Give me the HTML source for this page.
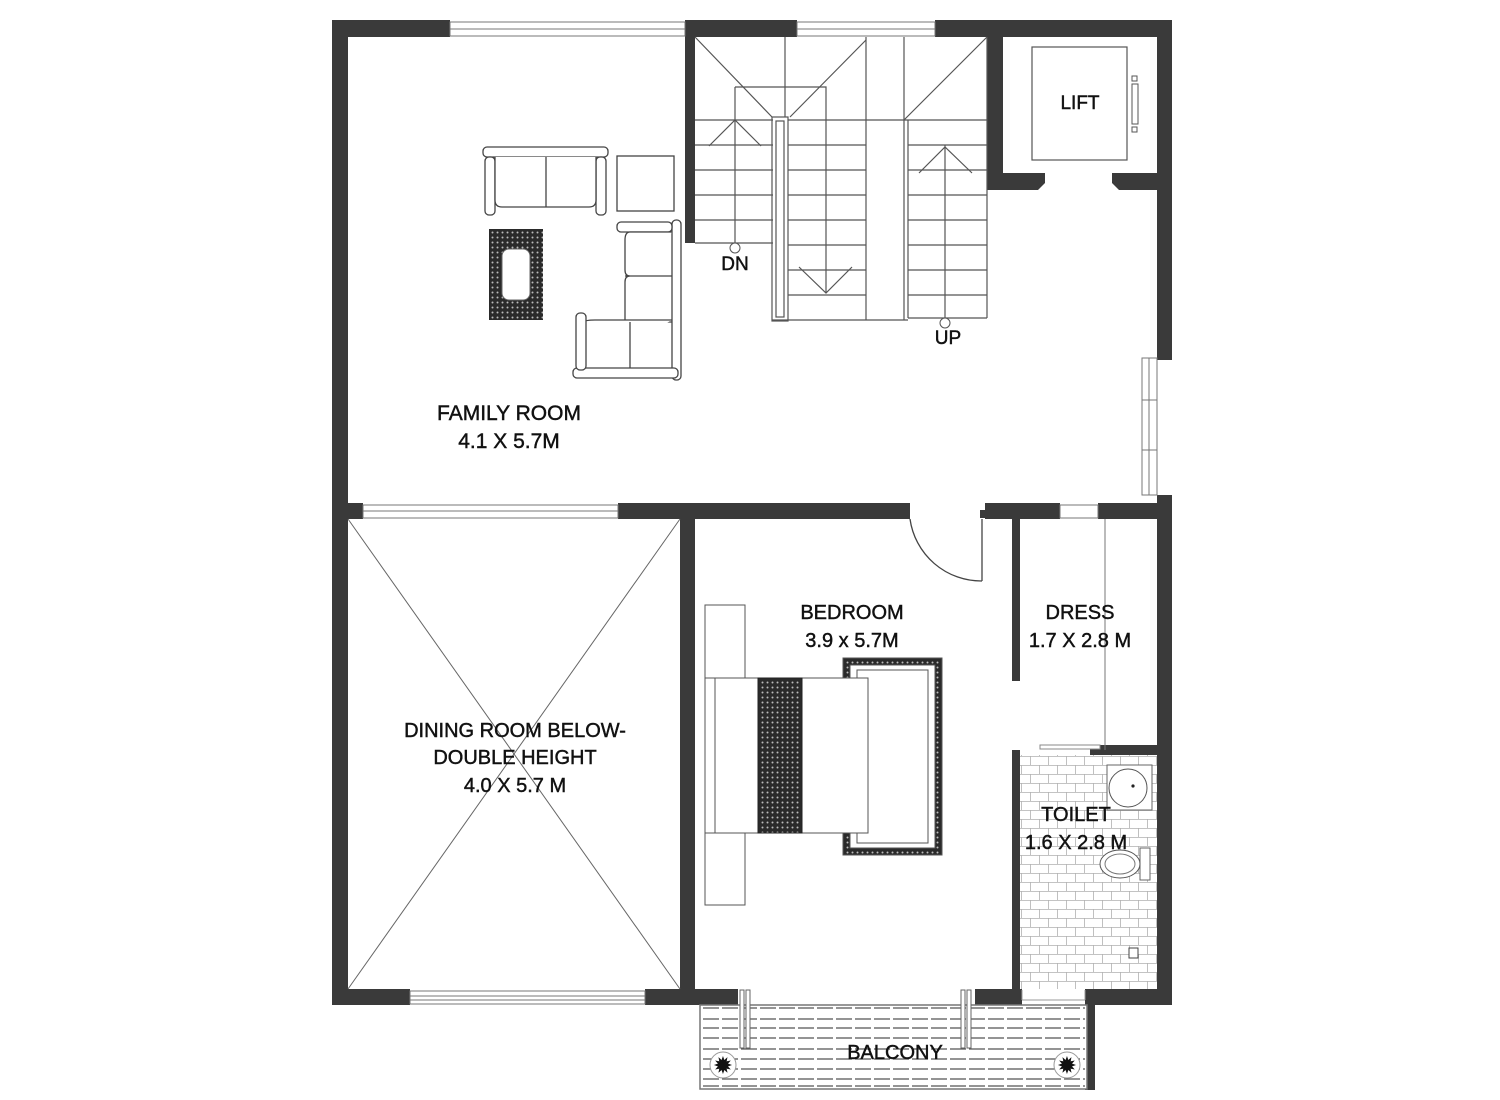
<!DOCTYPE html>
<html><head><meta charset="utf-8"><style>
html,body{margin:0;padding:0;background:#fff;}
svg{display:block;}
text{font-family:"Liberation Sans","DejaVu Sans",sans-serif;fill:#111;stroke:#111;stroke-width:0.45;}
</style></head><body>
<svg width="1500" height="1100" viewBox="0 0 1500 1100" xmlns="http://www.w3.org/2000/svg">
<defs>
<pattern id="dots" width="5" height="5" patternUnits="userSpaceOnUse">
<rect width="5" height="5" fill="#2a2a2a"/><circle cx="2.5" cy="2.5" r="1" fill="#bbb"/>
</pattern>
<pattern id="tiles" width="18" height="18" patternUnits="userSpaceOnUse">
<rect width="18" height="18" fill="#fff"/>
<path d="M0 0.5H18M0 9.5H18M4.5 0V9M13.5 9V18" stroke="#b0b0b0" stroke-width="0.8" fill="none"/>
</pattern>
</defs>
<g fill="#3a3a3a">
<rect x="332" y="20" width="118" height="17"/>
<rect x="685" y="20" width="112" height="17"/>
<rect x="935" y="20" width="237" height="17"/>
<rect x="332" y="20" width="16" height="985"/>
<rect x="1157" y="20" width="15" height="340"/>
<rect x="1157" y="495" width="15" height="510"/>
<rect x="685" y="37" width="10" height="206"/>
<rect x="987" y="37" width="16" height="153"/>
<path d="M987 173H1045L1045 183L1038 190H987Z"/>
<path d="M1157 173H1112L1112 183L1119 190H1157Z"/>
<rect x="332" y="503" width="31" height="16"/>
<rect x="618" y="503" width="292" height="16"/>
<rect x="985" y="503" width="75" height="16"/>
<rect x="1098" y="503" width="74" height="16"/>
<rect x="680" y="519" width="15" height="486"/>
<rect x="332" y="989" width="78" height="16"/>
<rect x="645" y="989" width="93" height="16"/>
<rect x="975" y="989" width="47" height="16"/>
<rect x="1085" y="989" width="87" height="16"/>
<rect x="1085" y="1000" width="10" height="90"/>
<rect x="1012" y="519" width="8" height="162"/>
<rect x="1012" y="750" width="8" height="245"/>
<rect x="1090" y="745" width="67" height="10"/>
<rect x="980" y="510" width="6" height="8"/>
</g>
<g fill="#fff" stroke="#777" stroke-width="1">
<rect x="450" y="22" width="235" height="14"/>
<rect x="797" y="22" width="138" height="14"/>
<rect x="363" y="505" width="255" height="13"/>
<rect x="410" y="991" width="235" height="13"/>
<rect x="1142" y="358" width="15" height="137"/>
<rect x="1060" y="505" width="38" height="13"/>
</g>
<g stroke="#777" stroke-width="1" fill="none">
<path d="M450 29H685M797 29H935M363 511H618M410 996H645M410 1000H645M1149 358V495M1142 400H1157M1142 450H1157"/>
</g>
<g stroke="#555" stroke-width="1.2" fill="none">
<path d="M695 120H773M695 145H773M695 170H773M695 195H773M695 220H773M695 243H773"/>
<rect x="772" y="117" width="16" height="204"/>
<rect x="776" y="121" width="8" height="196"/>
<path d="M788 145H866M788 170H866M788 195H866M788 220H866M788 245H866M788 270H866M788 295H866M772 320H908"/>
<path d="M866 37V320M904 37V320M908 120V318M987 37V318"/>
<path d="M908 145H987M908 170H987M908 195H987M908 220H987M908 245H987M908 270H987M908 295H987M908 318H987"/>
<path d="M785 37V117M866 120H987M788 120H866"/>
<path d="M695 37L772 117M866 40L790 117M987 37L904 120"/>
<path d="M735 87H826V293M735 87V243"/>
<path d="M709 146L735 120L761 146M799 267L826 293L852 267"/>
<path d="M945 145V318M919 173L945 147L972 173"/>
</g>
<circle cx="735" cy="248" r="5" fill="#fff" stroke="#555"/>
<circle cx="945" cy="323" r="5" fill="#fff" stroke="#555"/>
<text x="735" y="270" font-size="19" text-anchor="middle">DN</text>
<text x="948" y="344" font-size="19" text-anchor="middle">UP</text>
<rect x="1032" y="47" width="95" height="113" fill="#fff" stroke="#555" stroke-width="1.2"/>
<rect x="1132" y="84" width="6" height="40" fill="#fff" stroke="#555"/>
<rect x="1132" y="76" width="5" height="5" fill="#fff" stroke="#555"/>
<rect x="1132" y="127" width="5" height="5" fill="#fff" stroke="#555"/>
<text x="1080" y="109" font-size="19" text-anchor="middle">LIFT</text>
<g stroke="#444" stroke-width="1.3" fill="#fff">
<rect x="483" y="147" width="125" height="10" rx="4"/>
<rect x="485" y="157" width="10" height="58" rx="4"/>
<rect x="596" y="157" width="10" height="58" rx="4"/>
<path d="M495 157V200Q495 207 502 207H589Q596 207 596 200V157M546 157V207"/>
<rect x="617" y="156" width="57" height="55"/>
<rect x="672" y="220" width="9" height="160" rx="4"/>
<rect x="617" y="222" width="55" height="10" rx="4"/>
<path d="M672 232H630Q625 232 625 240V270Q625 276 630 276Q625 276 625 282V322M625 276H672M625 322H672"/>
<path d="M585 370V322Q585 320 595 320H672M630 322V368"/>
<rect x="573" y="368" width="105" height="10" rx="4"/>
<rect x="576" y="313" width="10" height="57" rx="4"/>
</g>
<rect x="489" y="229" width="54" height="91" fill="url(#dots)"/>
<rect x="502" y="249" width="28" height="51" rx="7" fill="#fff" stroke="#666"/>
<text x="509" y="420" font-size="21" text-anchor="middle">FAMILY ROOM</text>
<text x="509" y="448" font-size="21" text-anchor="middle">4.1 X 5.7M</text>
<path d="M348 519L680 989M680 519L348 989" stroke="#666" stroke-width="1"/>
<text x="515" y="737" font-size="20" text-anchor="middle">DINING ROOM BELOW-</text>
<text x="515" y="764" font-size="20" text-anchor="middle">DOUBLE HEIGHT</text>
<text x="515" y="792" font-size="20" text-anchor="middle">4.0 X 5.7 M</text>
<path d="M910 519A72 72 0 0 0 982 581M982 519V581" stroke="#444" stroke-width="1.3" fill="none"/>
<g stroke="#555" stroke-width="1" fill="#fff">
<rect x="705" y="605" width="40" height="300"/>
<rect x="843" y="658" width="99" height="197" fill="url(#dots)"/>
<rect x="850" y="665" width="85" height="183" fill="#fff"/>
<rect x="857" y="670" width="71" height="173"/>
<rect x="705" y="678" width="163" height="155"/>
<path d="M715 678V833"/>
</g>
<rect x="758" y="678" width="44" height="155" fill="url(#dots)" stroke="#222"/>
<text x="852" y="619" font-size="20" text-anchor="middle">BEDROOM</text>
<text x="852" y="647" font-size="20" text-anchor="middle">3.9 x 5.7M</text>
<path d="M1105 519V750" stroke="#777"/>
<rect x="1040" y="745" width="60" height="4" fill="#fff" stroke="#888"/>
<text x="1080" y="619" font-size="20" text-anchor="middle">DRESS</text>
<text x="1080" y="647" font-size="20" text-anchor="middle">1.7 X 2.8 M</text>
<rect x="1020" y="755" width="137" height="234" fill="url(#tiles)"/>
<rect x="1107" y="765" width="45" height="45" fill="#fff" stroke="#666"/>
<circle cx="1128" cy="788" r="19" fill="#fff" stroke="#555"/>
<circle cx="1133" cy="786" r="1.6" fill="#222"/>
<rect x="1140" y="848" width="10" height="32" fill="#fff" stroke="#666"/>
<ellipse cx="1120" cy="864" rx="20" ry="14" fill="#fff" stroke="#555"/>
<ellipse cx="1120" cy="864" rx="15" ry="10" fill="none" stroke="#777"/>
<rect x="1129" y="948" width="9" height="10" fill="#fff" stroke="#444"/>
<text x="1076" y="821" font-size="20" text-anchor="middle">TOILET</text>
<text x="1076" y="849" font-size="20" text-anchor="middle">1.6 X 2.8 M</text>
<g stroke="#999"><path d="M1022 990V1000M1085 990V1000M1022 1000H1085"/></g>
<rect x="700" y="1005" width="387" height="84" fill="#fff" stroke="#777" stroke-width="1.5"/>
<g stroke="#555" stroke-width="1.2" stroke-dasharray="16 3">
<path d="M703 1008H1085M703 1019H1085M703 1028H1085M703 1038H1085M703 1049H1085M703 1059H1085M703 1069H1085M703 1079H1085M703 1086H1085"/>
</g>
<g fill="#fff" stroke="#666"><rect x="740" y="990" width="4" height="58"/><rect x="746" y="990" width="4" height="58"/><rect x="961" y="990" width="4" height="58"/><rect x="967" y="990" width="4" height="58"/></g>
<text x="895" y="1059" font-size="20" text-anchor="middle">BALCONY</text>
<g>
<circle cx="723" cy="1065" r="13" fill="#fff" stroke="#999"/>
<text x="723" y="1073" font-size="22" text-anchor="middle">✹</text>
<circle cx="1067" cy="1065" r="13" fill="#fff" stroke="#999"/>
<text x="1067" y="1073" font-size="22" text-anchor="middle">✹</text>
</g>
</svg>
</body></html>
